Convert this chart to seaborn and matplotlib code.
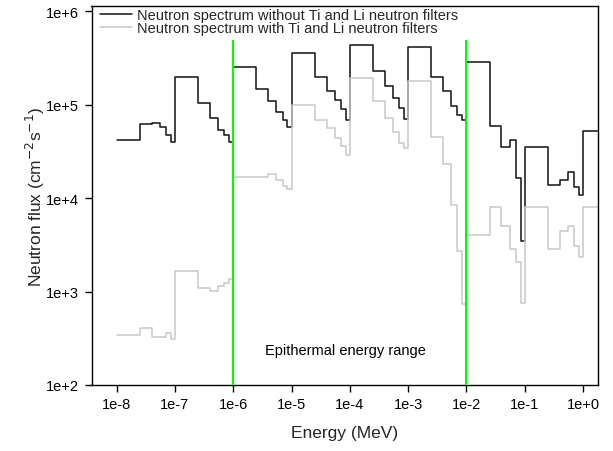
import numpy as np
import pandas as pd
import matplotlib
matplotlib.use("Agg")
import matplotlib.pyplot as plt
import seaborn as sns

# Bin edges (MeV), step spectrum values start at each edge (steps-post)
energy = [1e-8, 2.5e-8, 4e-8, 5.5e-8, 7e-8, 8.5e-8,
          1e-7, 2.5e-7, 4e-7, 5.5e-7, 7e-7, 8.5e-7,
          1e-6, 2.5e-6, 4e-6, 5.5e-6, 7e-6, 8.5e-6,
          1e-5, 2.5e-5, 4e-5, 5.5e-5, 7e-5, 8.5e-5,
          1e-4, 2.5e-4, 4e-4, 5.5e-4, 7e-4, 8.5e-4,
          1e-3, 2.5e-3, 4e-3, 5.5e-3, 7e-3, 8.5e-3,
          1e-2, 2.5e-2, 4e-2, 5.5e-2, 7e-2, 8.5e-2,
          1e-1, 2.5e-1, 4e-1, 5.5e-1, 7e-1, 8.5e-1,
          1.0, 2.5]

flux_no_filter = [4.2e4, 6.2e4, 6.35e4, 5.85e4, 4.7e4, 4.0e4,
                  1.97e5, 1.04e5, 7.2e4, 5.4e4, 4.75e4, 4.0e4,
                  2.56e5, 1.49e5, 1.11e5, 8.3e4, 6.9e4, 5.75e4,
                  3.56e5, 1.97e5, 1.39e5, 1.13e5, 9.0e4, 6.9e4,
                  4.37e5, 2.32e5, 1.58e5, 1.17e5, 9.25e4, 7.05e4,
                  4.13e5, 1.97e5, 1.39e5, 9.8e4, 7.8e4, 6.9e4,
                  2.85e5, 5.9e4, 3.56e4, 4.23e4, 1.66e4, 3.5e3,
                  3.5e4, 1.4e4, 1.58e4, 1.89e4, 1.33e4, 1.08e4,
                  5.2e4, 5.2e4]

flux_filter = [346, 405, 329, 329, 357, 311,
               1.67e3, 1.09e3, 1.01e3, 1.16e3, 1.23e3, 1.36e3,
               1.7e4, 1.7e4, 1.8e4, 1.57e4, 1.36e4, 1.25e4,
               1.0e5, 6.87e4, 5.6e4, 4.4e4, 3.65e4, 2.9e4,
               1.92e5, 1.11e5, 7.16e4, 5.15e4, 3.87e4, 3.42e4,
               1.81e5, 4.49e4, 2.32e4, 8.5e3, 2.74e3, 736,
               4.06e3, 8.1e3, 5.08e3, 2.86e3, 2.06e3, 755,
               8.1e3, 2.86e3, 4.43e3, 5.0e3, 3.05e3, 2.33e3,
               8.0e3, 8.0e3]

labels = ["Neutron spectrum without Ti and Li neutron filters",
          "Neutron spectrum with Ti and Li neutron filters"]

x_ticks = [1e-8, 1e-7, 1e-6, 1e-5, 1e-4, 1e-3, 1e-2, 1e-1, 1e0]
x_tick_labels = ["1e-8", "1e-7", "1e-6", "1e-5", "1e-4", "1e-3", "1e-2", "1e-1", "1e+0"]
y_ticks = [1e2, 1e3, 1e4, 1e5, 1e6]
y_tick_labels = ["1e+2", "1e+3", "1e+4", "1e+5", "1e+6"]

range_edges = [1e-6, 1e-2]
range_bottom = 1e2
range_top = 5e5
range_text = "Epithermal energy range"
range_text_pos = (8.3e-5, 237)

sns.set_theme(style="white")
plt.rcParams['font.family'] = ['Liberation Sans', 'DejaVu Sans']

df = pd.DataFrame({
    "energy": energy * 2,
    "flux": flux_no_filter + flux_filter,
    "series": [labels[0]] * len(energy) + [labels[1]] * len(energy),
})

fig = plt.figure(figsize=(6.13, 4.52), dpi=100)
ax = fig.add_axes([91.5 / 613, (452 - 386) / 452, (598 - 91.5) / 613, (386 - 7.3) / 452])

sns.lineplot(data=df, x="energy", y="flux", hue="series",
             palette={labels[0]: "#111111", labels[1]: "#c8c8c8"},
             drawstyle="steps-post", linewidth=1.1, sort=False,
             estimator=None, ax=ax, legend=True)

ax.vlines(range_edges, range_bottom, range_top, colors="#00ff00", linewidth=1.5, zorder=3)
ax.text(range_text_pos[0], range_text_pos[1], range_text, ha="center", va="center",
        fontsize=10.5, color="black")

ax.set_xscale("log")
ax.set_yscale("log")
ax.set_xlim(3.7e-9, 1.81)
ax.set_ylim(1e2, 1.135e6)
ax.set_xticks(x_ticks)
ax.set_xticklabels(x_tick_labels)
ax.set_yticks(y_ticks)
ax.set_yticklabels(y_tick_labels)
ax.minorticks_off()
ax.tick_params(axis="both", which="major", direction="out", length=5, width=1,
               color="black", labelsize=10.5, labelcolor="black", pad=4,
               bottom=True, left=True)
for s in ax.spines.values():
    s.set_color("black")
    s.set_linewidth(1)

ax.set_xlabel("Energy (MeV)", fontsize=12.5, labelpad=10)
ax.set_ylabel("Neutron flux (cm$^{-2}$s$^{-1}$)", fontsize=12.5, labelpad=-1)

leg = ax.legend(loc="upper left", bbox_to_anchor=(0.017, 0.995), frameon=False,
                fontsize=10.5, handlelength=2.17, handletextpad=0.38,
                borderaxespad=0, borderpad=0, labelspacing=-0.1)
for line in leg.get_lines():
    line.set_linewidth(1.1)

fig.savefig("out.png", dpi=100)
